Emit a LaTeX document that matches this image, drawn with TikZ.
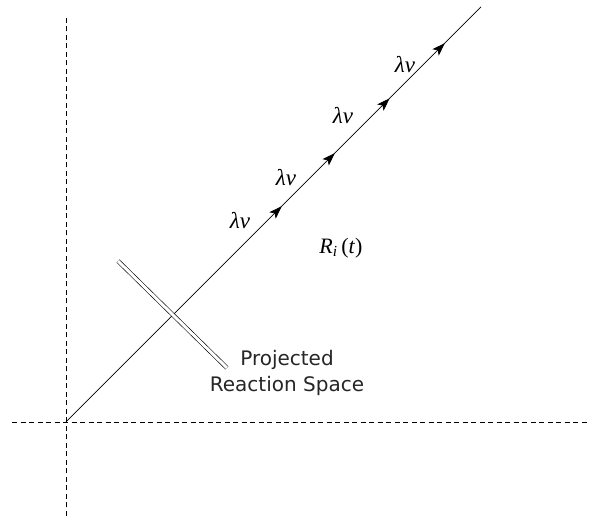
\documentclass[tikz,border=0pt]{standalone}
\usepackage{fontspec}
\newfontfamily\labelfont{DejaVu Sans}
\newfontfamily\timesfont{Liberation Serif}
\usetikzlibrary{arrows.meta,decorations.markings}
\tikzset{
  axis/.style={draw=black, line width=0.8pt, dash pattern=on 5pt off 3.5pt},
  ray/.style={draw=black, line width=0.7pt},
  tip/.style={},
  mathlbl/.style={inner sep=0pt, font=\timesfont\itshape\fontsize{23}{26}\selectfont},
  rlbl/.style={inner sep=0pt, font=\timesfont\fontsize{22}{24}\selectfont},
  txtlbl/.style={inner sep=0pt, align=center, text=black!85, font=\labelfont\fontsize{20}{26}\selectfont},
  space/.style={draw=black, double=white, line width=0.6pt, double distance=3pt}
}
\begin{document}
\begin{tikzpicture}[x=1pt,y=1pt]
\useasboundingbox (0,0) rectangle (592,518);
\coordinate (O) at (66,96);
\coordinate (vtop) at (66,500);
\coordinate (vbot) at (66,2);
\coordinate (hl) at (12,96);
\coordinate (hr) at (588,96);
\coordinate (E) at (481,511);
\coordinate (s1) at (118,257);
\coordinate (s2) at (227,150);
\draw[axis] (vbot) -- (vtop);
\draw[axis] (hl) -- (hr);
\draw[ray, postaction={decorate}, decoration={markings,
  mark=at position 0.52 with {\arrow{Stealth[length=13pt,width=9pt,inset=3pt]}},
  mark=at position 0.648 with {\arrow{Stealth[length=13pt,width=9pt,inset=3pt]}},
  mark=at position 0.78 with {\arrow{Stealth[length=13pt,width=9pt,inset=3pt]}},
  mark=at position 0.913 with {\arrow{Stealth[length=13pt,width=9pt,inset=3pt]}}}] (O) -- (E);
\draw[space] (s1) -- (s2);
\node[mathlbl] (l1) at (405,453) {λν};
\node[mathlbl] (l2) at (343,402) {λν};
\node[mathlbl] (l3) at (286,340) {λν};
\node[mathlbl] (l4) at (240,297) {λν};
\node[rlbl] (R) at (341,270) {\textit{R}\textsubscript{\textit{i}}\,(\textit{t})};
\node[txtlbl] (prs) at (287,145) {Projected\\Reaction Space};
\end{tikzpicture}
\end{document}
